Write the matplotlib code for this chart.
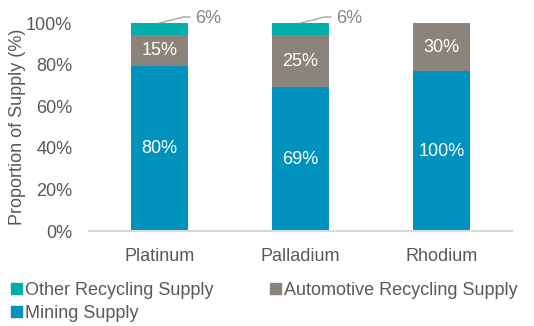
import matplotlib
matplotlib.use("Agg")
import matplotlib.pyplot as plt
from matplotlib.patches import Patch
import numpy as np

plt.rcParams['font.family'] = ['Liberation Sans', 'DejaVu Sans']

metals = ["Platinum", "Palladium", "Rhodium"]
mining = [80, 69, 100]
automotive = [15, 25, 30]
other = [6, 6, 0]
yticks = [0, 20, 40, 60, 80, 100]

c_mining = "#0091BD"
c_auto = "#8B847A"
c_other = "#00AFA9"
c_text = "#595959"
fs = 13

# 100% stacked: each bar is normalised to its own total
vals = np.array([mining, automotive, other], dtype=float)
shares = vals / vals.sum(axis=0) * 100

fig = plt.figure(figsize=(5.34, 3.26), dpi=100)
ax = fig.add_axes([89/534, 1 - 231/326, 423/534, 208/326])

x = np.arange(len(metals))
w = 0.40
bottom = np.zeros(len(metals))
colors = [c_mining, c_auto, c_other]
for i, (row, col) in enumerate(zip(shares, colors)):
    ax.bar(x, row, w, bottom=bottom, color=col, zorder=2)
    for j in range(len(metals)):
        if vals[i, j] <= 0:
            continue
        if i < 2:
            ax.text(x[j], bottom[j] + row[j] / 2, f"{vals[i, j]:.0f}%",
                    ha="center", va="center", color="white", fontsize=fs)
        else:
            # small segment: label outside with a leader line
            top = bottom[j] + row[j]
            ax.plot([x[j], x[j] + 0.17, x[j] + 0.215], [top, top + 2.9, top + 2.9],
                    color="#A6A6A6", lw=1, clip_on=False, zorder=3)
            ax.text(x[j] + 0.25, top + 2.4, f"{vals[i, j]:.0f}%",
                    ha="left", va="center", color=c_auto, fontsize=fs)
    bottom += row

ax.set_xlim(-0.5, len(metals) - 0.5)
ax.set_ylim(0, 100)
ax.set_yticks(yticks)
ax.set_yticklabels([f"{t}%" for t in yticks])
ax.set_xticks(x)
ax.set_xticklabels(metals)
ax.tick_params(length=0, labelsize=fs, colors=c_text)
ax.tick_params(axis="x", pad=12)
ax.tick_params(axis="y", pad=12)
for s in ["top", "right", "left"]:
    ax.spines[s].set_visible(False)
ax.spines["bottom"].set_color("#D9D9D9")
ax.spines["bottom"].set_linewidth(1.5)
ax.set_ylabel("Proportion of Supply (%)", fontsize=fs, color=c_text, labelpad=0)

handles = [Patch(color=c_other), Patch(color=c_mining), Patch(color=c_auto)]
labels = ["Other Recycling Supply", "Mining Supply", "Automotive Recycling Supply"]
fig.legend(handles, labels, ncol=2, loc="upper left", bbox_to_anchor=(11/534, 1 - 282/326),
           frameon=False, fontsize=fs, labelcolor=c_text, handlelength=0.6,
           handleheight=0.6, handletextpad=0.2, columnspacing=3.1, labelspacing=0.32,
           borderaxespad=0, borderpad=0)

fig.savefig("out.png", dpi=100)
